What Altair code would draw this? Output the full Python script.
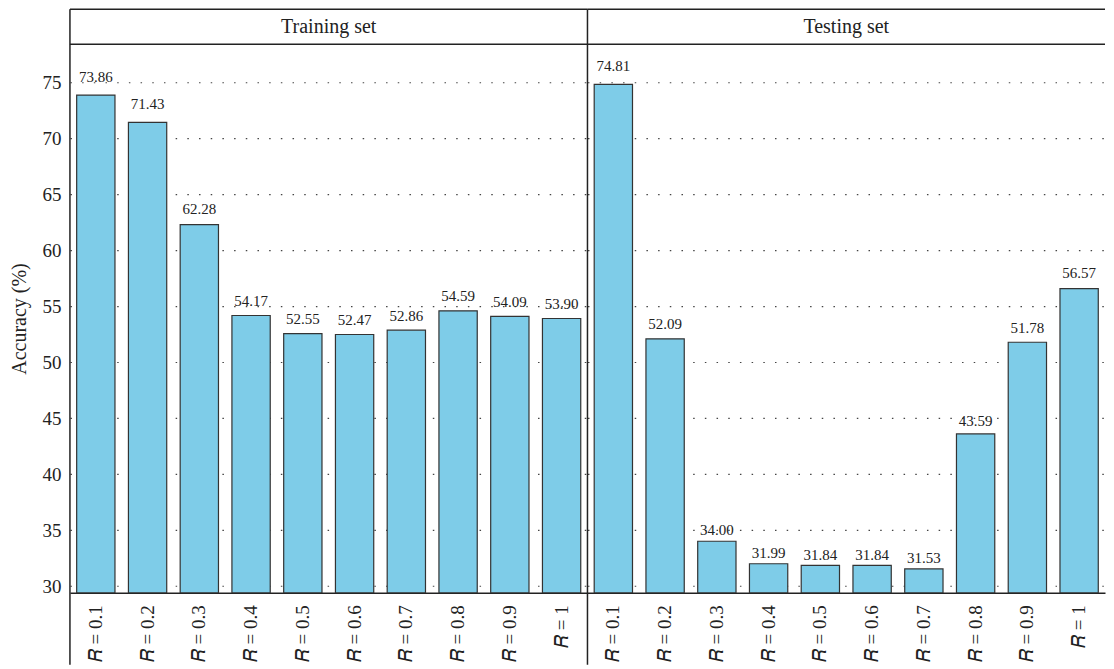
import altair as alt
import pandas as pd

categories = ["0.1", "0.2", "0.3", "0.4", "0.5", "0.6", "0.7", "0.8", "0.9", "1"]
train_acc = [73.86, 71.43, 62.28, 54.17, 52.55, 52.47, 52.86, 54.59, 54.09, 53.90]
test_acc = [74.81, 52.09, 34.00, 31.99, 31.84, 31.84, 31.53, 43.59, 51.78, 56.57]
panel_titles = ["Training set", "Testing set"]
y_ticks = [30, 35, 40, 45, 50, 55, 60, 65, 70, 75]
y_domain = [29.4, 78.4]

labels = ["\U0001D445 = " + c for c in categories]

W = 518
H = 549
HEAD = 35
BOTTOM = 72
FONT = "Liberation Serif"
BAR = "#7ECCE8"
LINE = "#222222"


def panel(title, values, first):
    df = pd.DataFrame({"R": labels, "acc": values})
    base = alt.Chart(df)
    if first:
        yaxis = alt.Axis(values=y_ticks, title="Accuracy (%)", grid=True, ticks=False,
                         domain=False, labelPadding=9, titlePadding=12)
    else:
        yaxis = alt.Axis(values=y_ticks, title=None, grid=True, ticks=False,
                         domain=False, labels=False)
    x = alt.X("R:N", sort=labels,
              scale=alt.Scale(paddingInner=0.26, paddingOuter=0.13),
              axis=alt.Axis(title=None, labelAngle=270, ticks=False, domain=True,
                            domainColor=LINE, domainWidth=1.5, labelPadding=12))
    y = alt.Y("acc:Q", scale=alt.Scale(domain=y_domain, zero=False, nice=False), axis=yaxis)
    bars = base.mark_bar(color=BAR, stroke="#333333", strokeWidth=1.2).encode(
        x=x, y=y, y2=alt.datum(y_domain[0]))
    text = base.transform_calculate(ly="datum.acc * 1.016").mark_text(
        baseline="alphabetic", fontSize=15, font=FONT, color="#222222").encode(
        x=alt.X("R:N", sort=labels),
        y=alt.Y("ly:Q"),
        text=alt.Text("acc:Q", format=".2f"))
    one = alt.Data(values=[{"t": title}])
    head = alt.Chart(one).mark_text(fontSize=20, font=FONT, color="#222222",
                                    baseline="middle").encode(
        x=alt.value(W / 2), y=alt.value(-HEAD / 2), text="t:N")
    vline = alt.Chart(one).mark_rule(color=LINE, strokeWidth=1.5).encode(
        x=alt.value(0), y=alt.value(-HEAD), y2=alt.value(H + BOTTOM))
    top = alt.Chart(one).mark_rule(color=LINE, strokeWidth=1.5).encode(
        x=alt.value(0), x2=alt.value(W), y=alt.value(-HEAD))
    mid = alt.Chart(one).mark_rule(color=LINE, strokeWidth=1.5).encode(
        x=alt.value(0), x2=alt.value(W), y=alt.value(0))
    return alt.layer(bars, text, head, vline, top, mid).properties(width=W, height=H)


chart = alt.hconcat(
    panel(panel_titles[0], train_acc, True),
    panel(panel_titles[1], test_acc, False),
    spacing=0, bounds="flush",
).properties(
    padding={"left": 2, "top": 0, "right": 0, "bottom": 0}
).configure_view(strokeWidth=0).configure_axis(
    labelFont=FONT, titleFont=FONT, labelFontSize=19, titleFontSize=20,
    labelColor="#222222", titleColor="#222222", titleFontWeight="normal",
    gridColor="#444444", gridDash=[1.5, 10.2], gridWidth=1.2,
).configure_axisY(labelFontSize=19)

chart.save("out.html", embed_options={"renderer": "svg", "actions": False})
